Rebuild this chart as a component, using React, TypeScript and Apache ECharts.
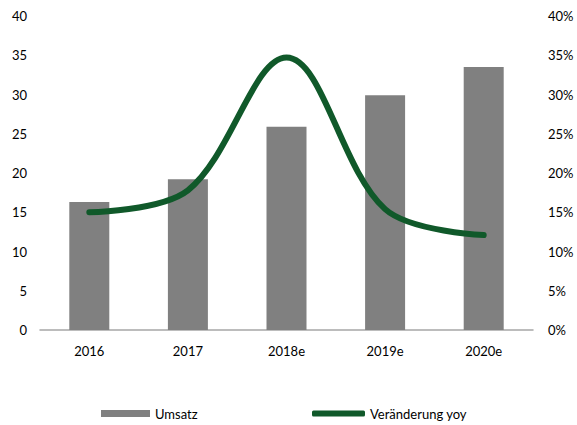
import React, { useEffect, useRef } from "react";
import * as echarts from "echarts";

const categories = ["2016", "2017", "2018e", "2019e", "2020e"];
const umsatz = [16.3, 19.2, 25.9, 29.9, 33.5];
const veraenderung = [15.0, 17.8, 34.7, 15.4, 12.1];
const leftTicks = [0, 5, 10, 15, 20, 25, 30, 35, 40];

const FONT = "Lato";

export default function App() {
  const ref = useRef<HTMLDivElement>(null);
  useEffect(() => {
    const chart = echarts.init(ref.current!, null, { renderer: "svg" });
    chart.setOption({
      animation: false,
      textStyle: { fontFamily: FONT, fontSize: 13, color: "#000" },
      grid: { left: 40, right: 44, top: 16, bottom: 95, containLabel: false },
      legend: [
        {
          data: [{ name: "Umsatz", icon: "rect" }],
          left: 96,
          top: 402,
          itemWidth: 49,
          itemHeight: 7,
          itemGap: 6,
          textStyle: { fontFamily: FONT, fontSize: 13, color: "#000" },
        },
        {
          data: [{ name: "Veränderung yoy", icon: "roundRect" }],
          left: 307,
          top: 402,
          itemWidth: 53,
          itemHeight: 6,
          textStyle: { fontFamily: FONT, fontSize: 13, color: "#000" },
        },
      ],
      xAxis: {
        type: "category",
        data: categories,
        axisTick: { show: false },
        axisLine: { lineStyle: { color: "#a6a6a6", width: 1.5 } },
        axisLabel: { margin: 14, color: "#000", fontFamily: FONT, fontSize: 13 },
      },
      yAxis: [
        {
          type: "value",
          min: leftTicks[0],
          max: leftTicks[leftTicks.length - 1],
          interval: 5,
          splitLine: { show: false },
          axisLine: { show: false },
          axisTick: { show: false },
          axisLabel: { margin: 13, color: "#000", fontFamily: FONT, fontSize: 13 },
        },
        {
          type: "value",
          min: 0,
          max: 40,
          interval: 5,
          splitLine: { show: false },
          axisLine: { show: false },
          axisTick: { show: false },
          axisLabel: {
            margin: 15,
            color: "#000",
            fontFamily: FONT,
            fontSize: 13,
            formatter: "{value}%",
          },
        },
      ],
      series: [
        {
          name: "Umsatz",
          type: "bar",
          data: umsatz,
          barWidth: 40,
          itemStyle: { color: "#808080" },
        },
        {
          name: "Veränderung yoy",
          type: "line",
          yAxisIndex: 1,
          data: veraenderung,
          smooth: 0.35,
          symbol: "none",
          lineStyle: { color: "#10592a", width: 6, cap: "round" },
          itemStyle: { color: "#10592a" },
        },
      ],
    });
    return () => chart.dispose();
  }, []);
  return (
    <div
      ref={ref}
      style={{ position: "absolute", left: 0, top: 0, width: 577, height: 425 }}
    />
  );
}
